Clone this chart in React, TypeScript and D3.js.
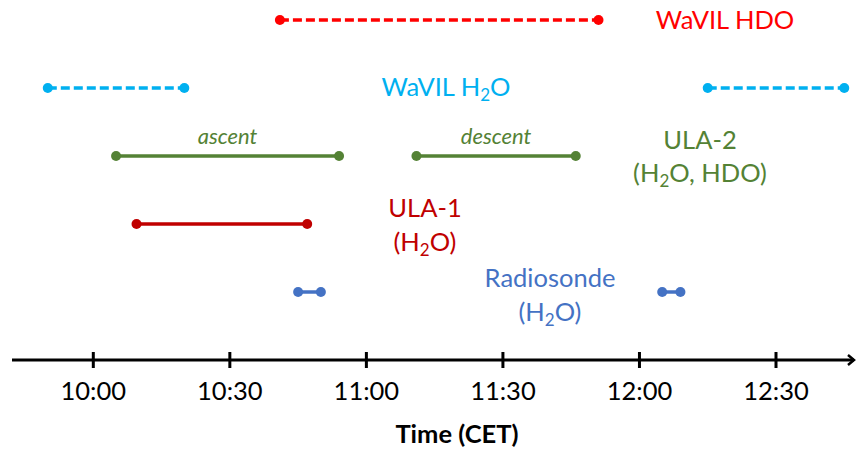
import React from "react";
import * as d3 from "d3";

const rows = ["wavilHdo", "wavilH2o", "ula2", "ula1", "radiosonde"];
const wavilHdo: [string, string][] = [["10:41", "11:51"]];
const wavilH2o: [string, string][] = [["09:50", "10:20"], ["12:15", "12:45"]];
const ula2: [string, string][] = [["10:05", "10:54"], ["11:11", "11:46"]];
const ula1: [string, string][] = [["10:09.5", "10:47"]];
const radiosonde: [string, string][] = [["10:45", "10:50"], ["12:05", "12:09"]];
const tickLabels = ["10:00", "10:30", "11:00", "11:30", "12:00", "12:30"];
const ula2Phases = ["ascent", "descent"];

const toMin = (s: string) => {
  const [h, m] = s.split(":");
  return +h * 60 + parseFloat(m);
};

const series = [
  { row: "wavilHdo", data: wavilHdo, color: "#FF0000", dash: "9,4" },
  { row: "wavilH2o", data: wavilH2o, color: "#00B0F0", dash: "9,4" },
  { row: "ula2", data: ula2, color: "#548235", dash: null },
  { row: "ula1", data: ula1, color: "#C00000", dash: null },
  { row: "radiosonde", data: radiosonde, color: "#4472C4", dash: null },
];

const W = 856;
const H = 453;
const FONT = "Lato, 'Liberation Sans', sans-serif";

export default function App() {
  const x = d3.scaleLinear().domain([toMin("10:00"), toMin("12:30")]).range([93.3, 776]);
  const y = d3.scalePoint<string>().domain(rows).range([20, 292]);
  const axisY = 360;
  const line = d3.line<number[]>().x((d) => d[0]).y((d) => d[1]);

  const sub = (c: string) => (
    <tspan baselineShift="-28%" fontSize="17">{c}</tspan>
  );

  return (
    <svg width={W} height={H} style={{ position: "absolute", left: 0, top: 0, background: "#fff" }} fontFamily={FONT}>
      {series.map((s) =>
        s.data.map((seg, i) => {
          const x0 = x(toMin(seg[0]));
          const x1 = x(toMin(seg[1]));
          const yy = y(s.row)!;
          return (
            <g key={s.row + i}>
              <path
                d={line([[x0, yy], [x1, yy]])!}
                stroke={s.color}
                strokeWidth={3.5}
                strokeDasharray={s.dash ?? undefined}
                fill="none"
              />
              <circle cx={x0} cy={yy} r={5} fill={s.color} />
              <circle cx={x1} cy={yy} r={5} fill={s.color} />
            </g>
          );
        })
      )}

      {ula2.map((seg, i) => (
        <text
          key={"ph" + i}
          x={(x(toMin(seg[0])) + x(toMin(seg[1]))) / 2}
          y={y("ula2")! - 12}
          textAnchor="middle"
          fontStyle="italic"
          fontSize={22}
          fill="#548235"
        >
          {ula2Phases[i]}
        </text>
      ))}

      <text x={725} y={29} textAnchor="middle" fontSize={25.5} fill="#FF0000">WaVIL HDO</text>
      <text x={446} y={96} textAnchor="middle" fontSize={25.5} fill="#00B0F0">
        WaVIL H{sub("2")}O
      </text>
      <text x={700} y={149} textAnchor="middle" fontSize={25.5} fill="#548235">ULA-2</text>
      <text x={700} y={182} textAnchor="middle" fontSize={25.5} fill="#548235">
        (H{sub("2")}O, HDO)
      </text>
      <text x={425} y={217} textAnchor="middle" fontSize={25.5} fill="#C00000">ULA-1</text>
      <text x={425} y={251} textAnchor="middle" fontSize={25.5} fill="#C00000">
        (H{sub("2")}O)
      </text>
      <text x={550} y={287} textAnchor="middle" fontSize={25.5} fill="#4472C4">Radiosonde</text>
      <text x={550} y={321} textAnchor="middle" fontSize={25.5} fill="#4472C4">
        (H{sub("2")}O)
      </text>

      <line x1={12} x2={854} y1={axisY} y2={axisY} stroke="#000" strokeWidth={3} />
      <path d={`M848,355 L854,360 L848,365`} stroke="#000" strokeWidth={2.5} fill="none" />
      {tickLabels.map((t) => {
        const tx = x(toMin(t));
        return (
          <g key={t}>
            <line x1={tx} x2={tx} y1={axisY - 8} y2={axisY + 8} stroke="#000" strokeWidth={3} />
            <text x={tx} y={400} textAnchor="middle" fontSize={25.5} fill="#000">{t}</text>
          </g>
        );
      })}
      <text x={457} y={443} textAnchor="middle" fontSize={25.5} fontWeight="bold" fill="#000">Time (CET)</text>
    </svg>
  );
}
